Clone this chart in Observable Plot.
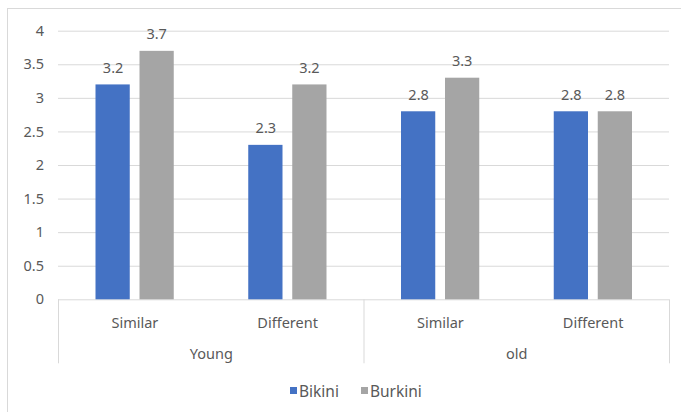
<!DOCTYPE html>
<html>
<head>
<meta charset="utf-8">
<script src="https://cdn.jsdelivr.net/npm/d3@7"></script>
<script src="https://cdn.jsdelivr.net/npm/@observablehq/plot@0.6"></script>
<style>
  html, body { margin: 0; padding: 0; background: #fff; overflow: hidden; width: 681px; height: 412px; }
  #border { position: absolute; left: 7px; top: 8px; width: 700px; height: 420px; border: 1px solid #d9d9d9; box-sizing: border-box; }
  #chart { position: absolute; left: 0; top: 0; }
  #legend { position: absolute; left: 290px; top: 374px; display: flex; justify-content: flex-start; font-family: "Noto Sans", sans-serif; font-size: 15.5px; color: #595959; }
  .lg-swatch { margin-right: 22px !important; }
  .lg-swatch > svg { margin-right: 2px !important; }
</style>
</head>
<body>
<div id="border"></div>
<div id="chart"></div>
<div id="legend"></div>
<script>
const groups = ["Young", "old"];
const subcategories = ["Similar", "Different"];
const series = ["Bikini", "Burkini"];
const bikini = [3.2, 2.3, 2.8, 2.8];
const burkini = [3.7, 3.2, 3.3, 2.8];
const yTicks = [0, 0.5, 1, 1.5, 2, 2.5, 3, 3.5, 4];
const colors = ["#4472C4", "#A5A5A5"];

// build table
const cats = [];
groups.forEach((g, gi) => subcategories.forEach((s, si) => cats.push({group: g, sub: s, i: gi * subcategories.length + si})));
const rows = [];
cats.forEach(c => {
  rows.push({...c, series: "Bikini", value: bikini[c.i]});
  rows.push({...c, series: "Burkini", value: burkini[c.i]});
});
const groupInfo = groups.map((g, gi) => ({group: g, start: gi * subcategories.length, end: (gi + 1) * subcategories.length}));
const boundaries = [0, ...groupInfo.map(d => d.end)];

const font = "Noto Sans, sans-serif";
const textColor = "#595959";
const grid = "#d9d9d9";
const fs = 14.5;

const barOpts = {
  Bikini: {insetLeft: 37.5, insetRight: 81},
  Burkini: {insetLeft: 81.5, insetRight: 37}
};
const labelDx = {Bikini: -21.8, Burkini: 21.8};

const plot = Plot.plot({
  width: 681,
  height: 375,
  marginLeft: 58,
  marginRight: 12,
  marginTop: 30.7,
  marginBottom: 75.7,
  style: {fontFamily: font, fontSize: fs + "px", color: textColor, background: "transparent", overflow: "visible"},
  x: {domain: [0, cats.length], axis: null},
  y: {domain: [0, 4], axis: null},
  color: {domain: series, range: colors},
  marks: [
    Plot.ruleY(yTicks, {stroke: grid, strokeWidth: 1}),
    Plot.axisY(yTicks, {tickSize: 0, tickPadding: 14.5, tickFormat: d => String(d), fill: textColor, fontSize: fs, label: null}),
    ...series.map(s => Plot.rectY(rows.filter(d => d.series === s), {
      x1: d => d.i, x2: d => d.i + 1, y: "value", fill: "series",
      insetLeft: barOpts[s].insetLeft, insetRight: barOpts[s].insetRight
    })),
    ...series.map(s => Plot.text(rows.filter(d => d.series === s), {
      x: d => d.i + 0.5, y: "value", text: d => String(d.value),
      dx: labelDx[s], dy: -12, lineAnchor: "bottom", fill: textColor, fontSize: fs
    })),
    Plot.ruleX(boundaries, {x: d => d, y1: 0, y2: 0, insetBottom: -64, stroke: grid, strokeWidth: 1}),
    Plot.text(cats, {x: d => d.i + 0.5, y: 0, text: "sub", dy: 24, lineAnchor: "middle", fill: textColor, fontSize: fs}),
    Plot.text(groupInfo, {x: d => (d.start + d.end) / 2, y: 0, text: "group", dy: 55, lineAnchor: "middle", fill: textColor, fontSize: fs})
  ]
});
document.getElementById("chart").appendChild(plot);

const legend = Plot.legend({
  color: {domain: series, range: colors},
  legend: "swatches",
  swatchSize: 7,
  className: "lg",
  style: {fontFamily: font, fontSize: "15.5px", color: textColor}
});
document.getElementById("legend").appendChild(legend);
</script>
</body>
</html>
